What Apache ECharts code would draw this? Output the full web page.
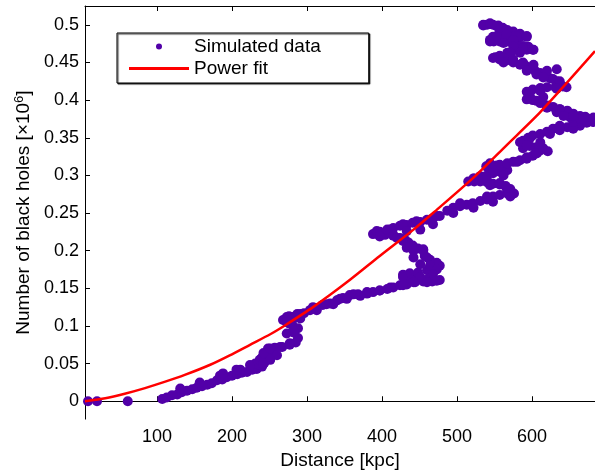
<!DOCTYPE html>
<html>
<head>
<meta charset="utf-8">
<script src="https://cdn.jsdelivr.net/npm/echarts@6/dist/echarts.min.js"></script>
<style>
  html, body { margin: 0; padding: 0; background: #fff; }
  #chart { width: 595px; height: 475px; }
</style>
</head>
<body>
<div id="chart"></div>
<script>
// axis ticks
var xTicks = [100, 200, 300, 400, 500, 600];
var yTicks = [0, 0.05, 0.1, 0.15, 0.2, 0.25, 0.3, 0.35, 0.4, 0.45, 0.5];

// simulated data [distance kpc, number x1e6]
var simX = [8, 20, 61, 107, 113, 120, 127, 133, 140, 147, 153, 160, 167, 173, 180, 187, 193, 200, 207, 213,
  220, 227, 233, 240, 243, 241, 245, 251, 240, 248, 257, 267, 277, 285, 288, 283, 288, 280, 273, 281,
  287, 276, 237, 235, 296, 304, 313, 321, 331, 340, 348, 357, 368, 380, 388, 397, 407, 415, 424, 433,
  444, 455, 467, 477, 461, 447, 437, 428, 437, 448, 460, 469, 477, 473, 464, 457, 455, 448, 441, 435,
  431, 424, 415, 404, 395, 388, 397, 407, 415, 424, 433, 441, 451, 460, 468, 477, 487, 495, 504, 513,
  521, 531, 540, 548, 557, 567, 576, 571, 565, 557, 548, 540, 531, 523, 515, 523, 531, 540, 548, 557,
  567, 560, 553, 544, 539, 557, 567, 575, 584, 593, 601, 607, 611, 604, 597, 592, 588, 595, 601, 611,
  620, 628, 637, 647, 655, 664, 673, 677, 681, 671, 664, 655, 647, 637, 628, 620, 611, 601, 597, 593,
  601, 611, 620, 631, 641, 633, 624, 617, 611, 604, 597, 591, 584, 575, 567, 557, 551, 557, 567, 575,
  584, 593, 601, 595, 588, 581, 575, 567, 557, 549, 544, 548, 557, 567, 575, 584, 593, 584, 575, 567,
  561, 555, 548, 540, 535,
  // extra points across the width of the cloud
  131, 157, 184, 211, 231, 188, 206, 224, 237, 242, 251, 260, 264, 277, 273, 277, 286, 282, 268, 242,
  251, 273, 291, 308, 326, 344, 362, 380, 397, 411, 428, 273, 291, 313, 335, 353, 371, 393, 411, 428,
  446, 464, 473, 397, 415, 433, 451, 468, 420, 428, 433, 442, 455, 460, 442, 451, 464, 473, 468, 451,
  433, 428, 442, 460, 473, 495, 522, 548, 571, 504, 540, 522, 540, 544, 557, 566, 548, 562, 544, 580,
  593, 606, 615, 588, 584, 597, 593, 611, 621, 624, 637, 655, 673, 682, 655, 637, 633, 651, 664, 535,
  544, 553, 557, 544, 553, 566, 580, 593, 562, 575, 575, 588, 602, 584, 571, 548, 562, 575, 562, 588,
  602, 593, 606, 620, 633, 615, 628, 637, 646, 633, 597, 611, 593, 606, 615, 620, 637, 655, 668, 682,
  642];
var simY = [0, 0, 0, 0.003, 0.005, 0.008, 0.009, 0.012, 0.014, 0.016, 0.018, 0.020, 0.022, 0.024, 0.028, 0.029, 0.032, 0.034, 0.036, 0.038,
  0.039, 0.042, 0.043, 0.046, 0.051, 0.057, 0.062, 0.066, 0.058, 0.070, 0.071, 0.072, 0.075, 0.078, 0.084, 0.091, 0.097, 0.103, 0.107, 0.112,
  0.116, 0.113, 0.054, 0.049, 0.117, 0.121, 0.124, 0.128, 0.130, 0.134, 0.137, 0.141, 0.142, 0.143, 0.145, 0.147, 0.149, 0.151, 0.154, 0.155,
  0.158, 0.159, 0.159, 0.161, 0.162, 0.164, 0.166, 0.168, 0.170, 0.171, 0.174, 0.176, 0.180, 0.184, 0.188, 0.193, 0.200, 0.203, 0.207, 0.211,
  0.214, 0.217, 0.220, 0.221, 0.222, 0.222, 0.225, 0.228, 0.230, 0.233, 0.234, 0.237, 0.238, 0.241, 0.243, 0.246, 0.253, 0.257, 0.259, 0.261,
  0.263, 0.266, 0.268, 0.272, 0.274, 0.276, 0.276, 0.282, 0.286, 0.288, 0.289, 0.291, 0.292, 0.292, 0.292, 0.296, 0.299, 0.300, 0.303, 0.305,
  0.307, 0.312, 0.313, 0.312, 0.312, 0.314, 0.316, 0.318, 0.320, 0.324, 0.326, 0.330, 0.333, 0.337, 0.339, 0.343, 0.346, 0.350, 0.353, 0.355,
  0.358, 0.362, 0.363, 0.364, 0.366, 0.366, 0.370, 0.375, 0.371, 0.378, 0.379, 0.382, 0.386, 0.388, 0.391, 0.393, 0.396, 0.400, 0.405, 0.411,
  0.414, 0.416, 0.417, 0.417, 0.418, 0.425, 0.429, 0.433, 0.436, 0.439, 0.443, 0.446, 0.447, 0.450, 0.453, 0.454, 0.457, 0.459, 0.463, 0.466,
  0.467, 0.467, 0.467, 0.471, 0.472, 0.474, 0.476, 0.478, 0.478, 0.478, 0.478, 0.484, 0.484, 0.484, 0.484, 0.484, 0.484, 0.488, 0.491, 0.493,
  0.496, 0.499, 0.500, 0.500, 0.499,
  0.017, 0.025, 0.034, 0.042, 0.050, 0.037, 0.042, 0.048, 0.055, 0.064, 0.070, 0.061, 0.072, 0.077, 0.090, 0.103, 0.112, 0.094, 0.108, 0.050,
  0.055, 0.112, 0.116, 0.125, 0.129, 0.136, 0.142, 0.145, 0.147, 0.151, 0.154, 0.105, 0.110, 0.121, 0.129, 0.136, 0.140, 0.226, 0.228, 0.235,
  0.239, 0.241, 0.246, 0.219, 0.221, 0.226, 0.228, 0.235, 0.217, 0.213, 0.204, 0.200, 0.202, 0.191, 0.191, 0.182, 0.180, 0.175, 0.169, 0.165,
  0.167, 0.165, 0.158, 0.158, 0.160, 0.250, 0.257, 0.265, 0.272, 0.263, 0.272, 0.296, 0.294, 0.287, 0.290, 0.283, 0.307, 0.300, 0.316, 0.318,
  0.322, 0.329, 0.336, 0.336, 0.344, 0.349, 0.340, 0.344, 0.332, 0.355, 0.360, 0.362, 0.371, 0.377, 0.371, 0.366, 0.384, 0.377, 0.375, 0.500,
  0.502, 0.498, 0.493, 0.480, 0.485, 0.487, 0.485, 0.485, 0.476, 0.480, 0.471, 0.469, 0.467, 0.463, 0.463, 0.456, 0.456, 0.454, 0.450, 0.450,
  0.447, 0.439, 0.434, 0.439, 0.441, 0.430, 0.428, 0.425, 0.417, 0.415, 0.410, 0.412, 0.401, 0.399, 0.404, 0.390, 0.388, 0.379, 0.375, 0.375,
  0.379];

// power fit
var fitX = [4, 31, 57, 84, 111, 137, 171, 197, 224, 251, 271, 308, 353, 397, 442, 468, 522, 566, 611, 684];
var fitY = [0, 0.004, 0.010, 0.0175, 0.026, 0.035, 0.0485, 0.061, 0.075, 0.089, 0.101, 0.125, 0.158, 0.193, 0.228, 0.250, 0.297, 0.340, 0.384, 0.465];

var simData = simX.map(function (x, i) { return [x, simY[i]]; });
var fitData = fitX.map(function (x, i) { return [x, fitY[i]]; });

var chart = echarts.init(document.getElementById('chart'));
var font = 'Liberation Sans, Arial, sans-serif';

var option = {
  animation: false,
  backgroundColor: '#fff',
  grid: { left: 85, right: 0, top: 6, bottom: 52 },
  legend: {
    orient: 'vertical',
    left: 117,
    top: 33,
    padding: [4, 48, 5, 12],
    itemGap: 3,
    itemWidth: 60,
    itemHeight: 6,
    borderColor: '#000',
    borderWidth: 1,
    backgroundColor: '#fff',
    shadowColor: 'rgba(0,0,0,0.8)',
    shadowBlur: 1,
    shadowOffsetX: 1,
    shadowOffsetY: 1,
    textStyle: { fontFamily: font, fontSize: 19, color: '#000' },
    data: [
      { name: 'Simulated data', icon: 'circle' },
      { name: 'Power fit', icon: 'path://M0,0L60,0L60,3L0,3Z' }
    ]
  },
  xAxis: [
    {
      type: 'value',
      min: 4,
      max: 684,
      name: 'Distance [kpc]',
      nameLocation: 'middle',
      nameGap: 30,
      nameTextStyle: { fontFamily: font, fontSize: 19, color: '#000' },
      axisLine: { lineStyle: { color: '#000', width: 1 } },
      axisTick: { inside: true, length: 5, customValues: xTicks, lineStyle: { color: '#000' } },
      axisLabel: { customValues: xTicks, fontFamily: font, fontSize: 18, color: '#000', margin: 9 },
      splitLine: { show: false }
    },
    {
      type: 'value',
      position: 'top',
      min: 4,
      max: 684,
      axisLine: { show: true, lineStyle: { color: '#000', width: 1 } },
      axisTick: { inside: true, length: 5, customValues: xTicks, lineStyle: { color: '#000' } },
      axisLabel: { show: false },
      splitLine: { show: false }
    }
  ],
  yAxis: {
    type: 'value',
    min: -0.0237,
    max: 0.525,
    name: 'Number of black holes [×10{sup|6}]',
    nameLocation: 'middle',
    nameRotate: 90,
    nameGap: 43,
    nameTextStyle: {
      fontFamily: font, fontSize: 19, color: '#000',
      rich: { sup: { fontFamily: font, fontSize: 13, color: '#000', padding: [0, 0, 9, 0] } }
    },
    axisLine: { show: true, lineStyle: { color: '#000', width: 1 } },
    axisTick: { inside: true, length: 5, customValues: yTicks, lineStyle: { color: '#000' } },
    axisLabel: { customValues: yTicks, fontFamily: font, fontSize: 18, color: '#000', margin: 6 },
    splitLine: { show: false }
  },
  series: [
    {
      name: 'Simulated data',
      type: 'scatter',
      data: simData,
      symbolSize: 10,
      itemStyle: { color: '#5200a8', opacity: 1 },
      z: 2
    },
    {
      name: 'Power fit',
      type: 'line',
      data: fitData,
      smooth: 0.25,
      showSymbol: false,
      symbol: 'none',
      lineStyle: { color: '#ff0000', width: 2.5 },
      itemStyle: { color: '#ff0000' },
      z: 3
    }
  ]
};

chart.setOption(option);
</script>
</body>
</html>
